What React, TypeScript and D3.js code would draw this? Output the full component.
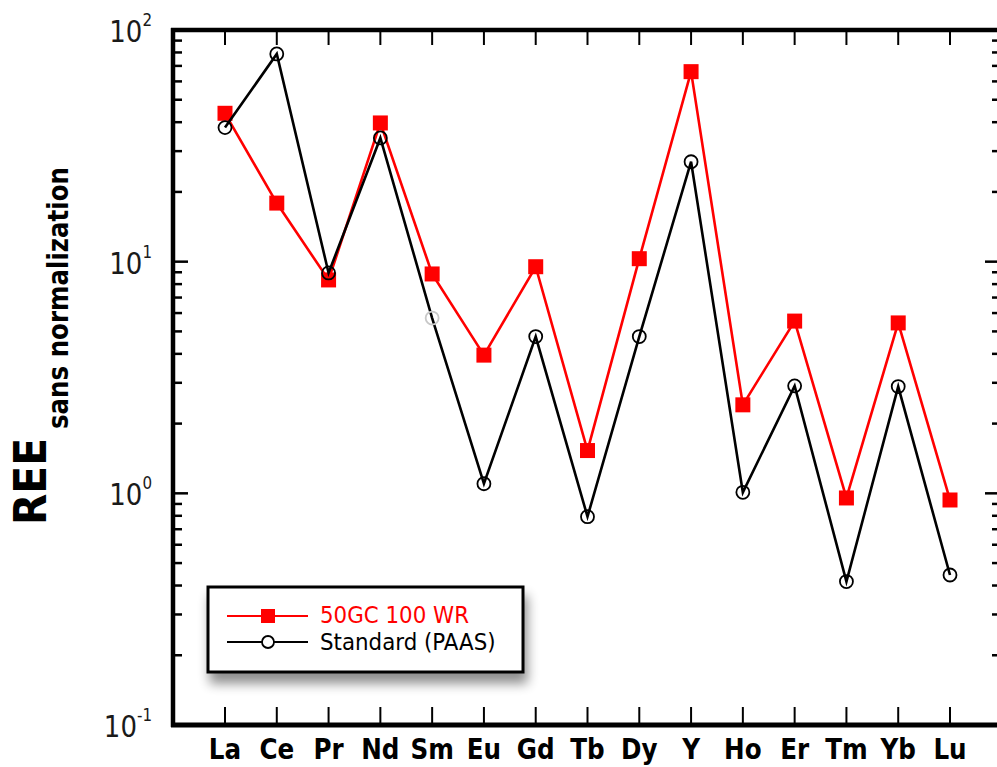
import React from "react";
import * as d3 from "d3";

const categories = ["La", "Ce", "Pr", "Nd", "Sm", "Eu", "Gd", "Tb", "Dy", "Y", "Ho", "Er", "Tm", "Yb", "Lu"];
const sampleValues = [43.7, 17.9, 8.34, 39.7, 8.85, 3.95, 9.51, 1.53, 10.3, 66.1, 2.41, 5.54, 0.955, 5.44, 0.936];
const paasValues = [37.9, 78.8, 8.94, 34.2, 5.71, 1.1, 4.75, 0.793, 4.75, 27.0, 1.01, 2.91, 0.416, 2.89, 0.444];
const yTickPowers = [-1, 0, 1, 2];
const seriesNames = ["50GC 100 WR", "Standard (PAAS)"];
const fadedPaasCategory = "Sm";

const W = 997;
const H = 767;
const LEFT = 173;
const RIGHT = 1000;
const TOP = 30;
const BOTTOM = 725;

const RED = "#ff0000";
const FONT = "'DejaVu Sans', Verdana, sans-serif";

export default function App() {
  const x = d3.scalePoint<string>().domain(categories).range([225, 950]);
  const y = d3.scaleLog().domain([0.1, 100]).range([BOTTOM, TOP]);

  const line = d3
    .line<{ c: string; v: number }>()
    .x((d) => x(d.c) as number)
    .y((d) => y(d.v));

  const redData = categories.map((c, i) => ({ c, v: sampleValues[i] }));
  const blackData = categories.map((c, i) => ({ c, v: paasValues[i] }));

  const ticks = y.ticks();
  const isMajor = (t: number) => Math.abs(Math.log10(t) - Math.round(Math.log10(t))) < 1e-6;

  const sq = 15;

  return (
    <svg
      width={W}
      height={H}
      style={{ position: "absolute", left: 0, top: 0, background: "#fff" }}
      fontFamily={FONT}
    >
      <defs>
        <filter id="legShadow" x="-20%" y="-30%" width="140%" height="180%">
          <feGaussianBlur in="SourceAlpha" stdDeviation="6" />
          <feOffset dx="3" dy="10" result="b" />
          <feComponentTransfer>
            <feFuncA type="linear" slope="0.45" />
          </feComponentTransfer>
          <feMerge>
            <feMergeNode />
            <feMergeNode in="SourceGraphic" />
          </feMerge>
        </filter>
      </defs>
      <rect x={0} y={0} width={W} height={H} fill="#fff" />

      {/* y ticks left and right */}
      {ticks.map((t, i) => {
        const yy = y(t);
        const maj = isMajor(t);
        return (
          <g key={"yt" + i}>
            <line x1={LEFT} x2={LEFT + (maj ? 15 : 9)} y1={yy} y2={yy} stroke="#000" strokeWidth={2.5} />
            <line x1={RIGHT} x2={RIGHT - (maj ? 15 : 8)} y1={yy} y2={yy} stroke="#000" strokeWidth={2.5} />
          </g>
        );
      })}

      {/* x ticks top and bottom */}
      {categories.map((c) => (
        <g key={"xt" + c}>
          <line x1={x(c)} x2={x(c)} y1={TOP} y2={TOP + 15} stroke="#000" strokeWidth={2} />
          <line x1={x(c)} x2={x(c)} y1={BOTTOM} y2={BOTTOM - 18} stroke="#000" strokeWidth={2} />
        </g>
      ))}

      {/* frame */}
      <line x1={LEFT} x2={LEFT} y1={TOP - 2} y2={BOTTOM + 2} stroke="#000" strokeWidth={4.5} />
      <line x1={LEFT - 2} x2={RIGHT} y1={TOP} y2={TOP} stroke="#000" strokeWidth={4.5} />
      <line x1={LEFT - 2} x2={RIGHT} y1={BOTTOM} y2={BOTTOM} stroke="#000" strokeWidth={5} />
      <line x1={RIGHT} x2={RIGHT} y1={TOP} y2={BOTTOM} stroke="#000" strokeWidth={4.5} />

      {/* y tick labels */}
      {yTickPowers.map((p) => (
        <g key={"yl" + p} transform={`translate(152,${y(Math.pow(10, p)) + 12}) scale(0.84,1)`}>
          <text textAnchor="end" fontSize={31} fill="#1a1a1a">
            10
            <tspan fontSize={18} dy={-16}>
              {p < 0 ? "-" + Math.abs(p) : String(p)}
            </tspan>
          </text>
        </g>
      ))}

      {/* x labels */}
      {categories.map((c) => (
        <g key={"xl" + c} transform={`translate(${x(c)},759) scale(0.88,1)`}>
          <text textAnchor="middle" fontSize={28} fontWeight="bold" fill="#000">
            {c}
          </text>
        </g>
      ))}

      {/* y title */}
      <g transform="translate(46,525) rotate(-90)">
        <text fontSize={45} fontWeight="bold" fill="#000" textLength={87} lengthAdjust="spacingAndGlyphs">
          REE
        </text>
      </g>
      <g transform="translate(68,429) rotate(-90)">
        <text fontSize={29} fontWeight="bold" fill="#000" textLength={262} lengthAdjust="spacingAndGlyphs">
          sans normalization
        </text>
      </g>

      {/* red series */}
      <path d={line(redData) || ""} fill="none" stroke={RED} strokeWidth={2.6} />
      {redData.map((d) => (
        <rect
          key={"rs" + d.c}
          x={(x(d.c) as number) - sq / 2}
          y={y(d.v) - sq / 2}
          width={sq}
          height={sq}
          fill={RED}
        />
      ))}

      {/* black series */}
      <path d={line(blackData) || ""} fill="none" stroke="#000" strokeWidth={2.6} />
      {blackData.map((d) => (
        <circle
          key={"bc" + d.c}
          cx={x(d.c) as number}
          cy={y(d.v)}
          r={6.5}
          fill="none"
          stroke={d.c === fadedPaasCategory ? "#c8c8c8" : "#000"}
          strokeWidth={1.8}
        />
      ))}

      {/* legend */}
      <rect x={208} y={587} width={315} height={85} fill="#fff" stroke="#000" strokeWidth={3} filter="url(#legShadow)" />
      <line x1={227} x2={308} y1={616} y2={616} stroke={RED} strokeWidth={2} />
      <rect x={268 - 7} y={616 - 7} width={14} height={14} fill={RED} />
      <g transform="translate(320,623) scale(0.93,1)">
        <text fontSize={23} fill={RED}>
          {seriesNames[0]}
        </text>
      </g>
      <line x1={227} x2={308} y1={642} y2={642} stroke="#000" strokeWidth={2} />
      <circle cx={268} cy={642} r={6} fill="#fff" stroke="#000" strokeWidth={1.8} />
      <g transform="translate(320,650) scale(0.93,1)">
        <text fontSize={23} fill="#000">
          {seriesNames[1]}
        </text>
      </g>
    </svg>
  );
}
